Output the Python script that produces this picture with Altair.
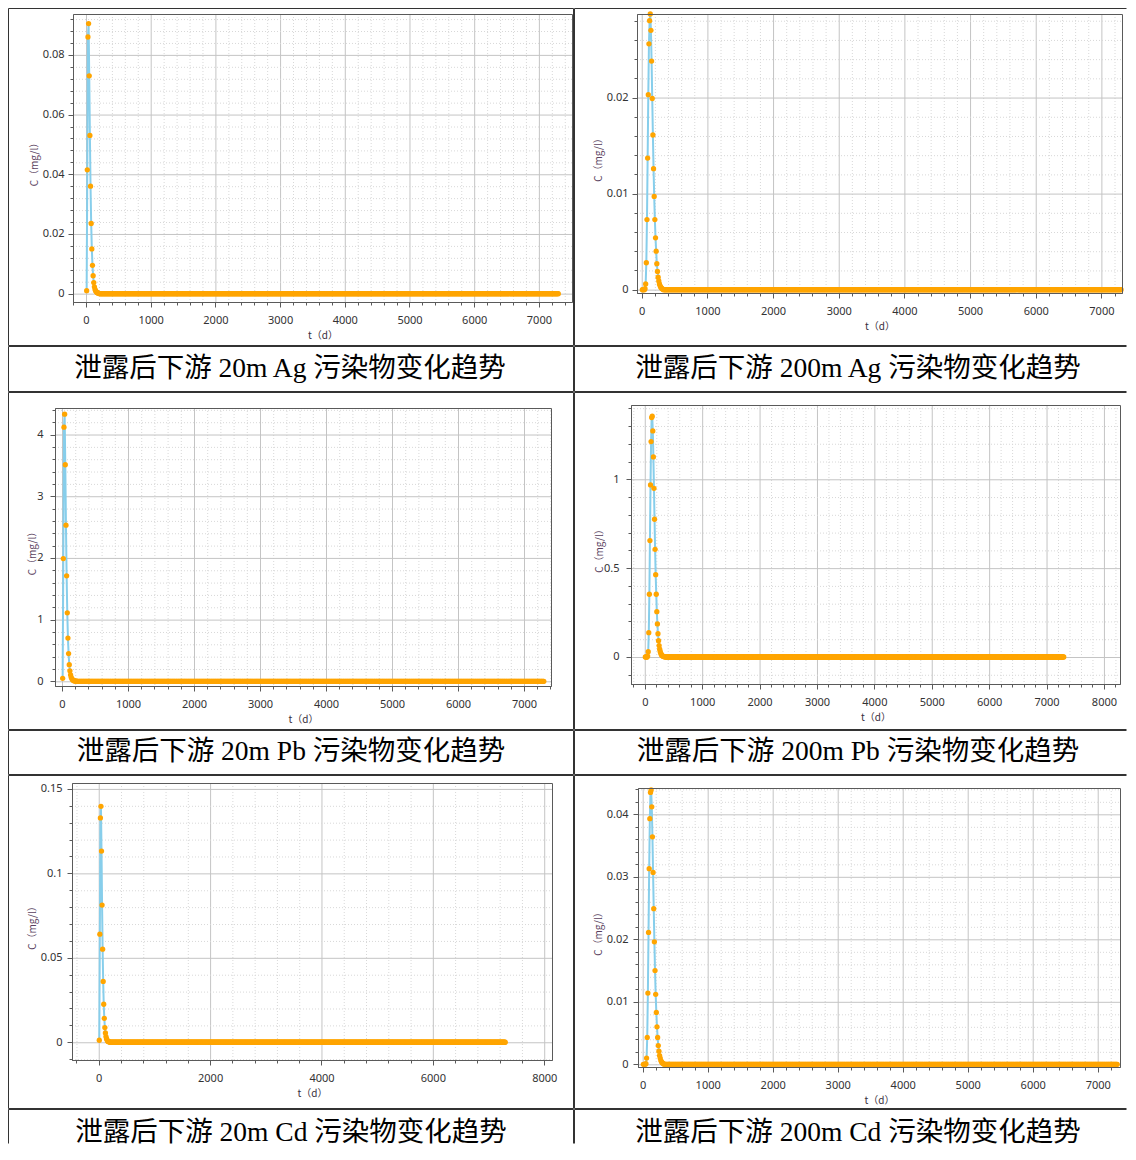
import altair as alt
import pandas as pd

# ---------------- data ----------------
T_STEP = 10
T_END = 7300
t_days = list(range(T_STEP, T_END + 1, T_STEP))  # simulation output every 10 d, 0..20 years

# concentration values (mg/l) from t = 10 d onward; flat zero afterwards
ag20_head = [0.001, 0.0415, 0.086, 0.0905, 0.073, 0.053, 0.036, 0.0235, 0.015, 0.0095,
             0.006, 0.0037, 0.0023, 0.0014, 0.0009, 0.0006, 0.0004, 0.00025, 0.00015, 0.0001]
ag200_head = [0.0, 0.0, 0.0, 0.0, 0.0001, 0.0006, 0.0028, 0.0073, 0.0137, 0.0203,
              0.0256, 0.0280, 0.0287, 0.0270, 0.0238, 0.0199, 0.0161, 0.0126, 0.0097, 0.0073,
              0.0054, 0.0040, 0.0027, 0.0019, 0.0013, 0.0009, 0.0006, 0.0004, 0.00025, 0.00016,
              0.0001, 0.00006]
pb20_head = [0.048, 1.99, 4.12, 4.33, 3.51, 2.53, 1.71, 1.11, 0.70, 0.45,
             0.27, 0.17, 0.105, 0.065, 0.04, 0.025, 0.016, 0.01, 0.006, 0.004,
             0.0025, 0.0015]
pb200_head = [0.0, 0.0, 0.0, 0.0, 0.005, 0.03, 0.137, 0.353, 0.655, 0.968,
              1.212, 1.347, 1.355, 1.272, 1.126, 0.949, 0.775, 0.606, 0.463, 0.353,
              0.255, 0.186, 0.131, 0.092, 0.064, 0.044, 0.03, 0.02, 0.013, 0.009,
              0.006, 0.004, 0.0025, 0.0016, 0.001]
cd20_head = [0.0012, 0.064, 0.1328, 0.1397, 0.1132, 0.0812, 0.0551, 0.036, 0.0225, 0.0142,
             0.0087, 0.0055, 0.0034, 0.0021, 0.0013, 0.0008, 0.0005, 0.0003, 0.0002, 0.0001]
cd200_head = [0.0, 0.0, 0.0, 0.0, 0.0001, 0.001, 0.0043, 0.0114, 0.0211, 0.0313,
              0.0393, 0.0435, 0.0439, 0.0412, 0.0364, 0.0307, 0.0249, 0.0196, 0.015, 0.0112,
              0.0083, 0.006, 0.0043, 0.003, 0.0021, 0.0014, 0.001, 0.0006, 0.0004, 0.00025,
              0.00016, 0.0001]

captions = [
    "泄露后下游 20m Ag 污染物变化趋势", "泄露后下游 200m Ag 污染物变化趋势",
    "泄露后下游 20m Pb 污染物变化趋势", "泄露后下游 200m Pb 污染物变化趋势",
    "泄露后下游 20m Cd 污染物变化趋势", "泄露后下游 200m Cd 污染物变化趋势",
]

x_major_1000 = [0, 1000, 2000, 3000, 4000, 5000, 6000, 7000]
x_major_1000_8 = [0, 1000, 2000, 3000, 4000, 5000, 6000, 7000, 8000]
x_major_2000 = [0, 2000, 4000, 6000, 8000]
y_major_ag20 = [0, 0.02, 0.04, 0.06, 0.08]
y_major_ag200 = [0, 0.01, 0.02]
y_major_pb20 = [0, 1, 2, 3, 4]
y_major_pb200 = [0, 0.5, 1]
y_major_cd20 = [0, 0.05, 0.1, 0.15]
y_major_cd200 = [0, 0.01, 0.02, 0.03, 0.04]

Y_TITLE = "C（mg/l）"
X_TITLE = "t（d）"

# ---------------- styling ----------------
LINE_COLOR = "#87CEEB"
POINT_COLOR = "#FFA500"
TABLE_COLOR = "#333333"
FRAME_COLOR = "#5a5a5a"
MAJOR_GRID = "#c4c4c4"
MINOR_GRID = "#d8d8d8"
LABEL_FONT = "Noto Sans"
TITLE_FONT = "Noto Sans CJK SC"
CAPTION_FONT = '"Liberation Serif", "Noto Sans CJK SC"'


def full_series(head):
    return head + [0.0] * (len(t_days) - len(head))


def minor_ticks(lo, hi, step, major_step):
    out = []
    k = int(lo // step) - 1
    while k * step <= hi + 1e-12:
        v = round(k * step, 10)
        if lo <= v <= hi:
            r = round(v / major_step, 6)
            if abs(r - round(r)) > 1e-6:
                out.append(v)
        k += 1
    return out


ONE = pd.DataFrame({"k": [0]})


def borders(x0, x1, y0, y1, sides):
    segs = {
        "top": (x0 + 0.5, x1 - 0.5, y0 + 0.5, y0 + 0.5),
        "bottom": (x0 + 0.5, x1 - 0.5, y1 - 0.5, y1 - 0.5),
        "left": (x0 + 0.5, x0 + 0.5, y0 + 0.5, y1 - 0.5),
        "right": (x1 - 0.5, x1 - 0.5, y0 + 0.5, y1 - 0.5),
    }
    out = []
    for side, (a, b, c, d) in segs.items():
        op = 1 if side in sides else 0
        out.append(
            alt.Chart(ONE)
            .mark_rule(color=TABLE_COLOR, strokeWidth=1, strokeOpacity=op, clip=False)
            .encode(x=alt.value(a), x2=alt.value(b), y=alt.value(c), y2=alt.value(d))
        )
    return out


def grid_layers(xs, ys, xmaj, xmin, ymaj, ymin, L, T, W, H):
    out = []
    for vals, color, dash in ((xmin, MINOR_GRID, [1, 2]), (xmaj, MAJOR_GRID, [])):
        out.append(
            alt.Chart(pd.DataFrame({"v": vals}))
            .mark_rule(color=color, strokeWidth=1, strokeDash=dash, xOffset=0.5)
            .encode(x=alt.X("v:Q", scale=xs, axis=None),
                    y=alt.value(T), y2=alt.value(T + H))
        )
    for vals, color, dash in ((ymin, MINOR_GRID, [1, 2]), (ymaj, MAJOR_GRID, [])):
        out.append(
            alt.Chart(pd.DataFrame({"v": vals}))
            .mark_rule(color=color, strokeWidth=1, strokeDash=dash, yOffset=0.5)
            .encode(y=alt.Y("v:Q", scale=ys, axis=None),
                    x=alt.value(L), x2=alt.value(L + W))
        )
    return out


def panel(head, xdom, ydom, xmaj, xstep, ymaj, ystep, Wc, Hc, L, T, W, H,
          ylab_pad, ytitle_x, xlab_pad, sides):
    """One table cell (Wc x Hc) whose plot rectangle sits at (L, T) with size W x H."""
    B = Hc - T - H
    df = pd.DataFrame({"t": t_days, "c": full_series(head)})
    xs = alt.Scale(domain=xdom, range=[L, L + W], nice=False, zero=False)
    ys = alt.Scale(domain=ydom, range=[T + H, T], nice=False, zero=False)
    xmin = minor_ticks(xdom[0], xdom[1], xstep, xmaj[1] - xmaj[0])
    ymin = minor_ticks(ydom[0], ydom[1], ystep, ymaj[1] - ymaj[0])

    minor_common = dict(labels=False, title=None, domain=False, grid=False,
                        ticks=True, tickSize=3, tickColor=FRAME_COLOR)
    x_minor = alt.Axis(values=xmin, orient="bottom", offset=-B, **minor_common)
    y_minor = alt.Axis(values=ymin, orient="left", offset=-L, **minor_common)

    x_major = alt.Axis(values=xmaj, orient="bottom", offset=-B, format="d", grid=False,
                       tickSize=5, tickColor=FRAME_COLOR,
                       domainColor=FRAME_COLOR, labelFont=LABEL_FONT, labelFontSize=11,
                       labelColor="#333333", labelPadding=xlab_pad, labelFlush=False,
                       labelOverlap=False, title=X_TITLE, titleX=L + W / 2, titleY=33,
                       titleBaseline="middle", titleAlign="center", titleFont=TITLE_FONT,
                       titleFontSize=10, titleFontWeight="normal", titleColor="#3a3040")
    y_major = alt.Axis(values=ymaj, orient="left", offset=-L, format="~g", grid=False,
                       tickSize=5, tickColor=FRAME_COLOR,
                       domainColor=FRAME_COLOR, labelFont=LABEL_FONT, labelFontSize=11,
                       labelColor="#333333", labelPadding=ylab_pad, labelFlush=False,
                       labelOverlap=False, title=Y_TITLE, titleX=ytitle_x,
                       titleY=T + H / 2 + 3.5, titleAngle=270, titleBaseline="middle",
                       titleAlign="center", titleFont=TITLE_FONT, titleFontSize=10,
                       titleFontWeight="normal", titleColor="#5a3f5e")

    base = alt.Chart(df)
    line = base.mark_line(color=LINE_COLOR, strokeWidth=2, clip=True).encode(
        x=alt.X("t:Q", scale=xs, axis=x_minor),
        y=alt.Y("c:Q", scale=ys, axis=y_minor),
    )
    pts = base.mark_circle(color=POINT_COLOR, size=28, opacity=1, clip=True).encode(
        x=alt.X("t:Q", scale=xs, axis=x_major),
        y=alt.Y("c:Q", scale=ys, axis=y_major),
    )
    frame = alt.Chart(ONE).mark_rect(fillOpacity=0, stroke=FRAME_COLOR, strokeWidth=1).encode(
        x=alt.value(L + 0.5), x2=alt.value(L + W + 0.5),
        y=alt.value(T + 0.5), y2=alt.value(T + H + 0.5))
    grids = grid_layers(xs, ys, xmaj, xmin, ymaj, ymin, L, T, W, H)
    return (
        alt.layer(*grids, line, pts, frame, *borders(0, Wc, 0, Hc, sides))
        .resolve_axis(x="independent", y="independent")
        .properties(width=Wc, height=Hc)
    )


def caption(text, W, H, tx, ty, sides):
    df = pd.DataFrame({"label": [text]})
    txt = alt.Chart(df).mark_text(font=CAPTION_FONT, fontSize=27.5, color="#000000",
                                  align="center", baseline="middle").encode(
        text="label:N", x=alt.value(tx), y=alt.value(ty))
    return alt.layer(txt, *borders(0, W, 0, H, sides)).properties(width=W, height=H)


LEFT_W = 566
RIGHT_W = 553
ALL = ("top", "bottom", "left", "right")
RIGHT_SIDES = ("top", "bottom", "left")

# row 1 (cell height 338)
p_ag20 = panel(ag20_head, [-201, 7512], [-0.0028, 0.0937], x_major_1000, 200, y_major_ag20, 0.004,
               Wc=LEFT_W, Hc=338, L=65, T=6, W=499, H=288,
               ylab_pad=4, ytitle_x=-39, xlab_pad=7, sides=ALL)
p_ag200 = panel(ag200_head, [-72, 7314], [-0.00035, 0.0287], x_major_1000, 200, y_major_ag200, 0.002,
                Wc=RIGHT_W, Hc=338, L=63, T=6, W=485, H=279,
                ylab_pad=4, ytitle_x=-39, xlab_pad=7, sides=RIGHT_SIDES)
# row 2 (cell height 338)
p_pb20 = panel(pb20_head, [-106, 7409], [-0.076, 4.43], x_major_1000, 200, y_major_pb20, 0.2,
               Wc=LEFT_W, Hc=338, L=47, T=16, W=496, H=278,
               ylab_pad=7, ytitle_x=-23, xlab_pad=7, sides=ALL)
p_pb200 = panel(pb200_head, [-240, 8280], [-0.152, 1.418], x_major_1000_8, 200, y_major_pb200, 0.1,
                Wc=RIGHT_W, Hc=338, L=57, T=13, W=489, H=279,
                ylab_pad=7, ytitle_x=-32, xlab_pad=7, sides=RIGHT_SIDES)
# row 3 (cell height 334)
p_cd20 = panel(cd20_head, [-480, 8140], [-0.0105, 0.1535], x_major_2000, 400, y_major_cd20, 0.01,
               Wc=LEFT_W, Hc=334, L=64, T=8, W=480, H=277,
               ylab_pad=5, ytitle_x=-40, xlab_pad=7, sides=ALL)
p_cd200 = panel(cd200_head, [-72, 7343], [-0.00043, 0.04421], x_major_1000, 200, y_major_cd200, 0.002,
                Wc=RIGHT_W, Hc=334, L=64, T=13, W=482, H=279,
                ylab_pad=5, ytitle_x=-40, xlab_pad=7, sides=RIGHT_SIDES)

cells = [
    p_ag20, p_ag200,
    caption(captions[0], LEFT_W, 46, 282, 23, ALL),
    caption(captions[1], RIGHT_W, 46, 284, 23, RIGHT_SIDES),
    p_pb20, p_pb200,
    caption(captions[2], LEFT_W, 45, 283, 22, ALL),
    caption(captions[3], RIGHT_W, 45, 284, 22, RIGHT_SIDES),
    p_cd20, p_cd200,
    caption(captions[4], LEFT_W, 35, 283, 24, ("top", "left", "right")),
    caption(captions[5], RIGHT_W, 35, 284, 24, ("top", "left")),
]

chart = (
    alt.concat(*cells, columns=2, spacing=0, align="each", bounds="full")
    .properties(padding=0, background="white")
    .configure_view(strokeOpacity=0)
)

chart.save("out.html", embed_options={"renderer": "svg", "actions": False})
